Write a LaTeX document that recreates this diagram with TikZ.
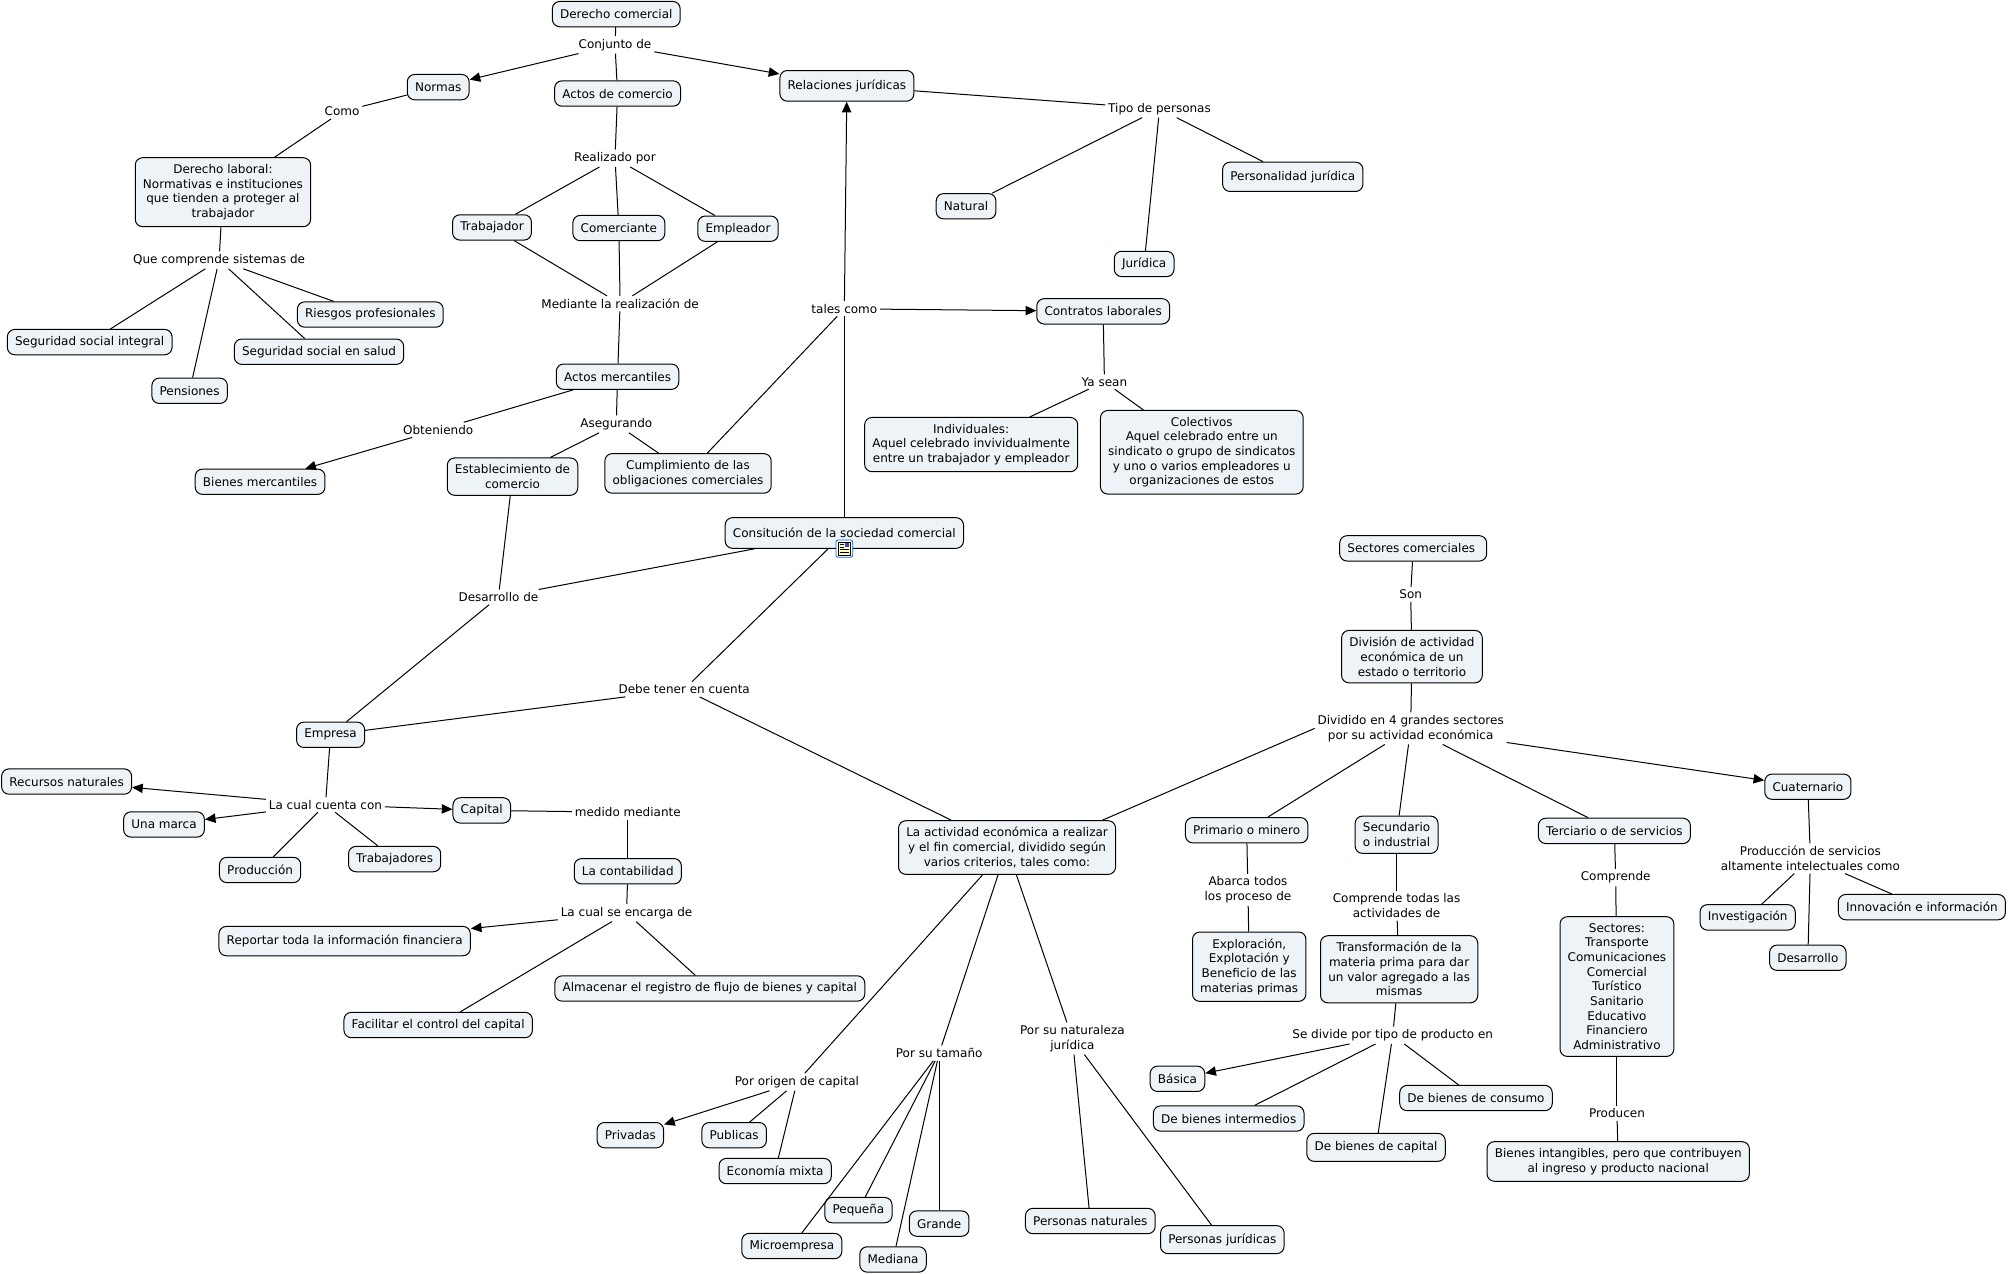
\documentclass[tikz,border=0pt]{standalone}
\usepackage{fontspec}
\setmainfont{DejaVu Sans}
\usetikzlibrary{arrows.meta}
\definecolor{conceptfill}{RGB}{237,243,246}
\tikzset{
  concept/.style = {draw, fill = conceptfill, rounded corners = 5.5pt, line width = 0.75pt, align = center, inner xsep = 5.8pt, inner ysep = 5pt, minimum height = 19pt, font = \fontsize{9}{11}\selectfont},
  phrase/.style = {align = center, inner xsep = 2pt, inner ysep = 2pt, font = \fontsize{9}{11}\selectfont},
  link/.style = {line width = 0.75pt},
  linkto/.style = {line width = 0.75pt, -{Triangle[length = 8pt, width = 7pt]}}
}
\begin{document}
\begin{tikzpicture}[x = 0.961pt, y = -0.961pt]
\useasboundingbox (0, 0) rectangle (1568, 994.3);
\node[concept] (derecho) at (481, 11){Derecho comercial};
\node[concept] (normas) at (342, 68){Normas};
\node[concept] (actos) at (482, 73){Actos de comercio};
\node[concept, minimum height = 23pt] (relaciones) at (661, 67){Relaciones jurídicas};
\node[concept] (laboral) at (174, 150){Derecho laboral:\\Normativas e instituciones\\que tienden a proteger al\\trabajador};
\node[concept] (trabajador) at (384, 177.5){Trabajador};
\node[concept] (comerciante) at (483, 178){Comerciante};
\node[concept] (empleador) at (576, 178.5){Empleador};
\node[concept] (natural) at (754, 161){Natural};
\node[concept] (juridica) at (893, 206){Jurídica};
\node[concept, minimum height = 22pt] (personalidad) at (1009, 138){Personalidad jurídica};
\node[concept] (contratos) at (861, 243){Contratos laborales};
\node[concept] (integral) at (70, 267){Seguridad social integral};
\node[concept] (riesgos) at (289, 245.5){Riesgos profesionales};
\node[concept] (salud) at (249, 274.5){Seguridad social en salud};
\node[concept] (pensiones) at (148, 305){Pensiones};
\node[concept] (mercantiles) at (482, 294){Actos mercantiles};
\node[concept] (bienes) at (203, 376){Bienes mercantiles};
\node[concept] (establecimiento) at (400, 372){Establecimiento de\\comercio};
\node[concept] (cumplimiento) at (537, 369.5){Cumplimiento de las\\obligaciones comerciales};
\node[concept] (individuales) at (758, 347){Individuales:\\Aquel celebrado invividualmente\\entre un trabajador y empleador};
\node[concept] (colectivos) at (938, 353){Colectivos\\Aquel celebrado entre un\\sindicato o grupo de sindicatos\\y uno o varios empleadores u\\organizaciones de estos};
\node[concept, minimum height = 23pt] (constitucion) at (659, 416){Consitución de la sociedad comercial};
\node[concept] (sectores) at (1103, 428){Sectores comerciales };
\node[concept] (division) at (1102, 512.5){División de actividad\\económica de un\\estado o territorio};
\node[concept] (empresa) at (258, 573.5){Empresa};
\node[concept] (recursos) at (52, 610){Recursos naturales};
\node[concept] (marca) at (128, 643.5){Una marca};
\node[concept] (produccion) at (203, 679){Producción};
\node[concept] (trabajadores) at (308, 670.5){Trabajadores};
\node[concept] (capital) at (376, 632.5){Capital};
\node[concept] (contabilidad) at (490, 680){La contabilidad};
\node[concept, minimum height = 22pt] (reportar) at (269, 734.5){Reportar toda la información financiera};
\node[concept] (facilitar) at (342, 800){Facilitar el control del capital};
\node[concept] (almacenar) at (554, 771.5){Almacenar el registro de flujo de bienes y capital};
\node[concept] (actividad) at (786, 661.5){La actividad económica a realizar\\y el fin comercial, dividido según\\varios criterios, tales como:};
\node[concept] (primario) at (973, 648){Primario o minero};
\node[concept] (secundario) at (1090, 651.5){Secundario\\o industrial};
\node[concept] (terciario) at (1260, 648.5){Terciario o de servicios};
\node[concept] (cuaternario) at (1411, 614){Cuaternario};
\node[concept] (investigacion) at (1364, 716){Investigación};
\node[concept] (innovacion) at (1500, 708){Innovación e información};
\node[concept] (desarrollo) at (1411, 747.5){Desarrollo};
\node[concept] (exploracion) at (975, 754.5){Exploración,\\Explotación y\\Beneficio de las\\materias primas};
\node[concept] (transformacion) at (1092, 756.5){Transformación de la\\materia prima para dar\\un valor agregado a las\\mismas};
\node[concept] (listado) at (1262, 770){Sectores:\\Transporte\\Comunicaciones\\Comercial\\Turístico\\Sanitario\\Educativo\\Financiero\\Administrativo};
\node[concept] (basica) at (919, 842){Básica};
\node[concept] (intermedios) at (959, 873){De bienes intermedios};
\node[concept] (consumo) at (1152, 857){De bienes de consumo};
\node[concept, minimum height = 21pt] (decapital) at (1074, 895.5){De bienes de capital};
\node[concept] (intangibles) at (1263, 906.5){Bienes intangibles, pero que contribuyen\\al ingreso y producto nacional};
\node[concept] (privadas) at (492, 886){Privadas};
\node[concept] (publicas) at (573, 886){Publicas};
\node[concept] (mixta) at (605, 914){Economía mixta};
\node[concept] (pequena) at (670, 944.5){Pequeña};
\node[concept] (micro) at (618, 972.5){Microempresa};
\node[concept] (mediana) at (697, 983){Mediana};
\node[concept] (grande) at (733, 955){Grande};
\node[concept] (naturales) at (851, 953){Personas naturales};
\node[concept, minimum height = 21pt] (juridicas) at (954, 967.5){Personas jurídicas};
\node[phrase] (conjunto) at (480, 35){Conjunto de};
\node[phrase] (como) at (267, 87){Como};
\node[phrase] (realizado) at (480, 123.5){Realizado por};
\node[phrase] (tipo) at (905, 85){Tipo de personas};
\node[phrase] (sistemas) at (171, 203){Que comprende sistemas de};
\node[phrase] (mediante) at (484, 237){Mediante la realización de};
\node[phrase] (tales) at (659, 241){tales como};
\node[phrase] (yasean) at (862, 298){Ya sean};
\node[phrase] (obteniendo) at (342, 335.5){Obteniendo};
\node[phrase] (asegurando) at (481, 331){Asegurando};
\node[phrase] (desarrollode) at (389, 466){Desarrollo de};
\node[phrase] (son) at (1101, 464){Son};
\node[phrase] (debe) at (534, 538){Debe tener en cuenta};
\node[phrase] (dividido) at (1101, 568.5){Dividido en 4 grandes sectores\\por su actividad económica};
\node[phrase] (cuenta) at (254, 628){La cual cuenta con};
\node[phrase] (medido) at (490, 634){medido mediante};
\node[phrase] (encarga) at (489, 712.5){La cual se encarga de};
\node[phrase] (abarca) at (974, 694.5){Abarca todos\\los proceso de};
\node[phrase] (todas) at (1090, 707){Comprende todas las\\actividades de};
\node[phrase] (comprende) at (1261, 685){Comprende};
\node[phrase] (servicios) at (1413, 670){Producción de servicios\\altamente intelectuales como};
\node[phrase] (divide) at (1087, 808){Se divide por tipo de producto en};
\node[phrase] (producen) at (1262, 869){Producen};
\node[phrase] (origen) at (622, 844.5){Por origen de capital};
\node[phrase] (tamano) at (733, 822){Por su tamaño};
\node[phrase] (naturaleza) at (837, 810.5){Por su naturaleza\\jurídica};
\node[inner sep = 0pt, minimum size = 13pt] (icono) at (659, 428){};
\draw[link] (derecho) -- (conjunto);
\draw[linkto] (conjunto) -- (normas);
\draw[link] (conjunto) -- (actos);
\draw[linkto] (conjunto) -- (relaciones);
\draw[link] (normas) -- (como);
\draw[link] (como) -- (laboral);
\draw[link] (actos) -- (realizado);
\draw[link] (realizado) -- (trabajador);
\draw[link] (realizado) -- (comerciante);
\draw[link] (realizado) -- (empleador);
\draw[link] (trabajador) -- (mediante);
\draw[link] (comerciante) -- (mediante);
\draw[link] (empleador) -- (mediante);
\draw[link] (mediante) -- (mercantiles);
\draw[link] (relaciones) -- (tipo);
\draw[link] (tipo) -- (natural);
\draw[link] (tipo) -- (juridica);
\draw[link] (tipo) -- (personalidad);
\draw[link] (laboral) -- (sistemas);
\draw[link] (sistemas) -- (integral);
\draw[link] (sistemas) -- (riesgos);
\draw[link] (sistemas) -- (salud);
\draw[link] (sistemas) -- (pensiones);
\draw[link] (mercantiles) -- (obteniendo);
\draw[linkto] (obteniendo) -- (bienes);
\draw[link] (mercantiles) -- (asegurando);
\draw[link] (asegurando) -- (establecimiento);
\draw[link] (asegurando) -- (cumplimiento);
\draw[link] (constitucion) -- (tales);
\draw[linkto] (tales) -- (relaciones);
\draw[link] (cumplimiento) -- (tales);
\draw[linkto] (tales) -- (contratos);
\draw[link] (contratos) -- (yasean);
\draw[link] (yasean) -- (individuales);
\draw[link] (yasean) -- (colectivos);
\draw[link] (establecimiento) -- (desarrollode);
\draw[link] (constitucion.190) -- (desarrollode);
\draw[link] (desarrollode) -- (empresa);
\draw[link] (constitucion) -- (debe);
\draw[link] (debe) -- (empresa);
\draw[link] (debe) -- (actividad);
\draw[link] (sectores) -- (son);
\draw[link] (son) -- (division);
\draw[link] (division) -- (dividido);
\draw[link] (dividido.west) -- (actividad.16.6);
\draw[link] (dividido) -- (primario);
\draw[link] (dividido) -- (secundario);
\draw[link] (dividido) -- (terciario);
\draw[linkto] (dividido) -- (cuaternario);
\draw[link] (empresa) -- (cuenta);
\draw[linkto] (cuenta) -- (recursos);
\draw[linkto] (cuenta) -- (marca);
\draw[linkto] (cuenta) -- (capital);
\draw[link] (cuenta) -- (produccion);
\draw[link] (cuenta) -- (trabajadores);
\draw[link] (capital) -- (medido);
\draw[link] (medido) -- (contabilidad);
\draw[link] (contabilidad) -- (encarga);
\draw[linkto] (encarga) -- (reportar);
\draw[link] (encarga) -- (facilitar);
\draw[link] (encarga) -- (almacenar);
\draw[link] (actividad) -- (origen);
\draw[link] (actividad) -- (tamano);
\draw[link] (actividad) -- (naturaleza);
\draw[linkto] (origen) -- (privadas);
\draw[link] (origen) -- (publicas);
\draw[link] (origen) -- (mixta);
\draw[link] (tamano) -- (pequena);
\draw[link] (tamano) -- (micro);
\draw[link] (tamano) -- (mediana);
\draw[link] (tamano) -- (grande);
\draw[link] (naturaleza) -- (naturales);
\draw[link] (naturaleza) -- (juridicas);
\draw[link] (primario) -- (abarca);
\draw[link] (abarca) -- (exploracion);
\draw[link] (secundario) -- (todas);
\draw[link] (todas) -- (transformacion);
\draw[link] (transformacion) -- (divide);
\draw[linkto] (divide) -- (basica);
\draw[link] (divide) -- (intermedios);
\draw[link] (divide) -- (consumo);
\draw[link] (divide) -- (decapital);
\draw[link] (terciario) -- (comprende);
\draw[link] (comprende) -- (listado);
\draw[link] (listado) -- (producen);
\draw[link] (producen) -- (intangibles);
\draw[link] (cuaternario) -- (servicios);
\draw[link] (servicios) -- (investigacion);
\draw[link] (servicios) -- (innovacion);
\draw[link] (servicios) -- (desarrollo);
\draw[rounded corners = 1.5pt, draw = blue!60!cyan, fill = white, line width = 0.6pt] (652.5, 421.5) rectangle (665.5, 435);
\fill[yellow!25] (654.5, 423) rectangle (663.5, 433.5);
\draw[line width = 0.4pt] (654.5, 423) rectangle (663.5, 433.5);
\fill[blue!50!gray] (659.5, 423.5) rectangle (663, 427);
\draw[line width = 0.5pt] (655.5, 425) -- (658.5, 425) (655.5, 427) -- (658.5, 427) (655.5, 429) -- (662.5, 429) (655.5, 431) -- (662.5, 431);
\end{tikzpicture}
\end{document}
